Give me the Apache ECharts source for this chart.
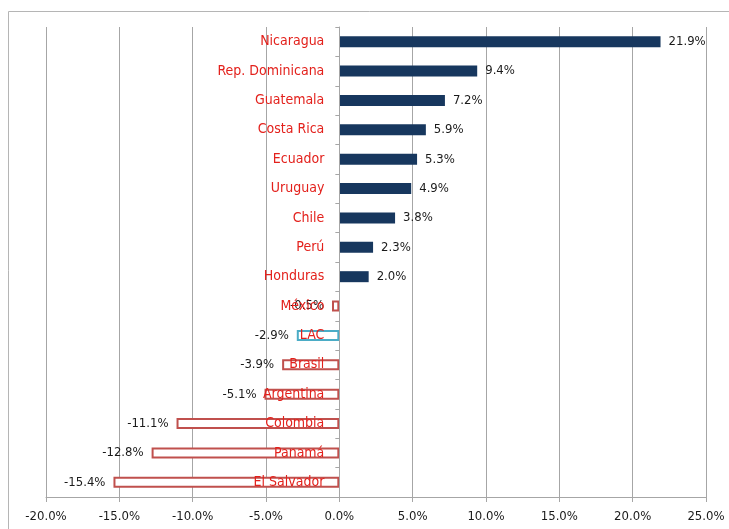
<html>
    <head>
        <meta charset="utf-8">
        <script src="https://cdn.jsdelivr.net/npm/echarts@6/dist/echarts.min.js"></script>
    </head>
    <body style="margin:0">
        <style>
            #main {
                position: absolute;
                left: 0;
                top: 0;
                width: 729px;
                height: 529px;
                background: #fff;
            }
        </style>
        <div id="main"></div>

        <script>
            // countries, top to bottom
            var countries = [
                'Nicaragua', 'Rep. Dominicana', 'Guatemala', 'Costa Rica', 'Ecuador',
                'Uruguay', 'Chile', 'Perú', 'Honduras', 'México', 'LAC', 'Brasil',
                'Argentina', 'Colombia', 'Panamá', 'El Salvador'
            ];
            // change, %
            var changes = [
                21.9, 9.4, 7.2, 5.9, 5.3, 4.9, 3.8, 2.3, 2.0, -0.5, -2.9, -3.9,
                -5.1, -11.1, -12.8, -15.4
            ];
            var xTicks = [-20, -15, -10, -5, 0, 5, 10, 15, 20, 25];

            var font = "'Liberation Sans Narrow', 'DejaVu Sans Condensed', sans-serif";
            var chart = echarts.init(document.getElementById('main'));

            var data = changes.map(function (v, i) {
                var neg = v < 0;
                var lac = countries[i] === 'LAC';
                return {
                    value: v,
                    itemStyle: neg ? {
                        color: '#fff',
                        borderColor: lac ? '#4bacc6' : '#c0504d',
                        borderWidth: 2
                    } : {
                        color: '#17375e'
                    },
                    label: {
                        position: neg ? 'left' : 'right'
                    }
                };
            });

            // category names sit just left of the zero line
            var nameMarks = countries.map(function (c, i) {
                return [0, i];
            });

            chart.setOption({
                animation: false,
                graphic: [{
                    type: 'rect',
                    shape: { x: 8.5, y: 11.5, width: 800, height: 600 },
                    style: { fill: 'none', stroke: '#b5b5b5', lineWidth: 1 },
                    silent: true
                }],
                grid: {
                    left: 46,
                    right: 23,
                    top: 27,
                    bottom: 32,
                    containLabel: false,
                    outerBoundsMode: 'none'
                },
                xAxis: {
                    type: 'value',
                    min: xTicks[0],
                    max: xTicks[xTicks.length - 1],
                    interval: 5,
                    axisLine: { show: true, lineStyle: { color: '#a6a6a6' } },
                    axisTick: { show: true, length: 5, lineStyle: { color: '#a6a6a6' } },
                    splitLine: { show: true, lineStyle: { color: '#a6a6a6' } },
                    axisLabel: {
                        margin: 13,
                        color: '#1a1a1a',
                        fontFamily: font,
                        fontSize: 13,
                        formatter: function (v) { return v.toFixed(1) + '%'; }
                    }
                },
                yAxis: {
                    type: 'category',
                    inverse: true,
                    data: countries,
                    z: 5,
                    axisLine: { show: true, onZero: true, lineStyle: { color: '#a6a6a6' } },
                    axisTick: { show: true, length: 4, lineStyle: { color: '#a6a6a6' } },
                    splitLine: { show: false },
                    axisLabel: { show: false }
                },
                series: [{
                    type: 'bar',
                    barWidth: 11,
                    data: data,
                    label: {
                        show: true,
                        distance: 8,
                        color: '#1a1a1a',
                        fontFamily: font,
                        fontSize: 13,
                        formatter: function (p) { return p.value.toFixed(1) + '%'; }
                    }
                }, {
                    type: 'scatter',
                    z: 6,
                    symbolSize: 0,
                    silent: true,
                    itemStyle: { opacity: 1 },
                    data: nameMarks,
                    label: {
                        show: true,
                        position: 'left',
                        distance: 15,
                        color: '#e3211c',
                        fontFamily: font,
                        fontSize: 14,
                        formatter: function (p) { return countries[p.dataIndex]; }
                    }
                }]
            });
        </script>
    </body>
</html>
